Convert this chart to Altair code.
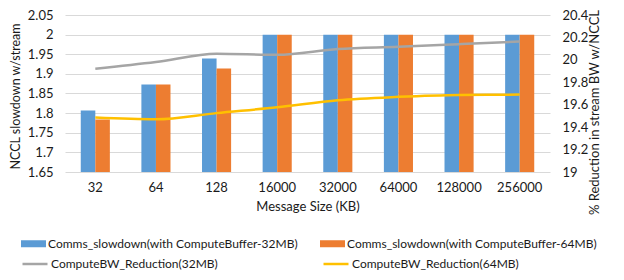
import altair as alt
import pandas as pd

cats = ["32", "64", "128", "16000", "32000", "64000", "128000", "256000"]
bar_series = ["Comms_slowdown(with ComputeBuffer-32MB)", "Comms_slowdown(with ComputeBuffer-64MB)"]
line_series = ["ComputeBW_Reduction(32MB)", "ComputeBW_Reduction(64MB)"]
slow32 = [1.807, 1.873, 1.939, 2.0, 2.0, 2.0, 2.0, 2.0]
slow64 = [1.784, 1.873, 1.914, 2.0, 2.0, 2.0, 2.0, 2.0]
bw32 = [19.92, 19.98, 20.054, 20.045, 20.097, 20.117, 20.14, 20.163]
bw64 = [19.485, 19.47, 19.525, 19.577, 19.64, 19.67, 19.687, 19.69]
left_ticks = [1.65, 1.7, 1.75, 1.8, 1.85, 1.9, 1.95, 2.0, 2.05]
right_ticks = [19, 19.2, 19.4, 19.6, 19.8, 20, 20.2, 20.4]

bars_df = pd.DataFrame(
    [{"cat": c, "series": bar_series[0], "value": v} for c, v in zip(cats, slow32)]
    + [{"cat": c, "series": bar_series[1], "value": v} for c, v in zip(cats, slow64)]
)
lines_df = pd.DataFrame(
    [{"cat": c, "series": line_series[0], "value": v} for c, v in zip(cats, bw32)]
    + [{"cat": c, "series": line_series[1], "value": v} for c, v in zip(cats, bw64)]
)

FONT = "Lato"
TXT = "#1a1a1a"
xscale = alt.Scale(domain=cats, paddingInner=0.52, paddingOuter=0.26)
xaxis = alt.Axis(title="Message Size (KB)", labelAngle=0, labelPadding=9, titlePadding=6,
                 ticks=False, domain=False, grid=False, labelFontSize=13, titleFontSize=13,
                 labelColor=TXT, titleColor=TXT, titleFontWeight="normal")

bars = alt.Chart(bars_df).mark_bar(clip=True).encode(
    x=alt.X("cat:N", sort=cats, scale=xscale, axis=xaxis),
    xOffset=alt.XOffset("series:N", sort=bar_series, scale=alt.Scale(paddingInner=0, paddingOuter=0)),
    y=alt.Y("value:Q", scale=alt.Scale(domain=[1.65, 2.05], nice=False, zero=False),
            axis=alt.Axis(values=left_ticks, format="~g", title="NCCL slowdown w/stream",
                          ticks=False, domain=False, grid=True, gridColor="#d9d9d9",
                          labelPadding=12, titlePadding=5, labelFontSize=13, titleFontSize=12.5,
                          titleLimit=400, titleY=81,
                          labelColor=TXT, titleColor=TXT, titleFontWeight="normal")),
    fill=alt.Fill("series:N", sort=bar_series,
                  scale=alt.Scale(domain=bar_series, range=["#5B9BD5", "#ED7D31"]),
                  legend=alt.Legend(title=None, orient="none", legendX=-44, legendY=216,
                                    direction="horizontal", columns=2, columnPadding=22,
                                    symbolType="M-1,-0.28H1V0.28H-1Z", symbolSize=625,
                                    symbolStrokeWidth=0, labelOffset=2, labelLimit=400,
                                    labelFontSize=12, labelFont=FONT, labelColor=TXT,
                                    padding=0)),
)

lines = alt.Chart(lines_df).mark_line(interpolate="monotone", strokeWidth=2.5).encode(
    x=alt.X("cat:N", sort=cats, scale=xscale, axis=xaxis),
    y=alt.Y("value:Q", scale=alt.Scale(domain=[19, 20.4], nice=False, zero=False),
            axis=alt.Axis(orient="right", values=right_ticks, format="~g",
                          title="% Reduction in stream BW w/NCCL",
                          ticks=False, domain=False, grid=False,
                          labelPadding=12, titlePadding=14, labelFontSize=13, titleFontSize=13,
                          titleLimit=400, titleAngle=270, titleY=97,
                          labelColor=TXT, titleColor=TXT, titleFontWeight="normal")),
    stroke=alt.Stroke("series:N", sort=line_series,
                      scale=alt.Scale(domain=line_series, range=["#A5A5A5", "#FFC000"]),
                      legend=alt.Legend(title=None, orient="none", legendX=-44, legendY=235,
                                        direction="horizontal", columns=2, columnPadding=100,
                                        symbolType="stroke", symbolSize=625,
                                        symbolStrokeWidth=2.5, labelOffset=2, labelLimit=400,
                                        labelFontSize=12, labelFont=FONT, labelColor=TXT,
                                        padding=0)),
)

chart = alt.layer(bars, lines).resolve_scale(
    y="independent", fill="independent", stroke="independent"
).properties(
    width=485, height=157,
    autosize=alt.AutoSizeParams(type="none"),
    padding={"left": 57, "top": 7, "right": 66, "bottom": 100},
).configure(font=FONT).configure_view(stroke=None)

chart.save("out.html", embed_options={"renderer": "svg", "actions": False})
